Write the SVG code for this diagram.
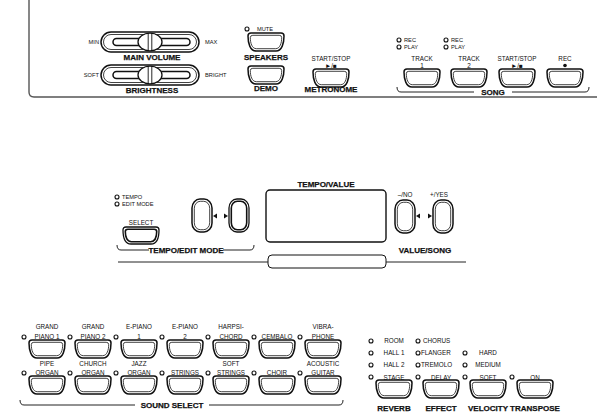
<svg xmlns="http://www.w3.org/2000/svg" width="605" height="417" viewBox="0 0 605 417">
<style>
.o{fill:#fff;stroke:#111;stroke-width:1.5}
.i{fill:none;stroke:#111;stroke-width:0.8}
.ob{fill:#fff;stroke:#111;stroke-width:1.3}
.ib{fill:none;stroke:#111;stroke-width:1.6}
.led{fill:#fff;stroke:#111;stroke-width:1.1}
.ln{fill:none;stroke:#222;stroke-width:1}
.pl{fill:none;stroke:#555;stroke-width:1.4}
text{font-family:"Liberation Sans",Arial,sans-serif;fill:#111}
.t{font-size:6.3px}
.ts{font-size:5.7px}
.b{font-size:8px;font-weight:bold;stroke:#111;stroke-width:0.25}
.m{text-anchor:middle}
</style>
<defs>
<g id="btn">
<path class="o" d="M3,0 H33 Q36,0 36,3 C36,10 34,18 28,18 H8 C2,18 0,10 0,3 Q0,0 3,0 Z"/>
<path class="i" d="M4.8,2.3 H31.2 Q33.7,2.3 33.7,4.6 C33.7,10 32,15.7 27.6,15.7 H8.4 C4,15.7 2.3,10 2.3,4.6 Q2.3,2.3 4.8,2.3 Z"/>
</g>
<g id="btnb">
<path class="ob" d="M3,0 H33 Q36,0 36,3 C36,10 34,17 28,17 H8 C2,17 0,10 0,3 Q0,0 3,0 Z"/>
<path class="ib" d="M4.8,2.3 H31.2 Q33.7,2.3 33.7,4.6 C33.7,10 32,14.7 27.6,14.7 H8.4 C4,14.7 2.3,10 2.3,4.6 Q2.3,2.3 4.8,2.3 Z"/>
</g>
<g id="tall">
<rect class="o" x="0" y="0" width="20" height="33" rx="8" ry="9"/>
<rect class="i" x="2.3" y="2.3" width="15.4" height="28.4" rx="6" ry="7"/>
</g>
<g id="tallb">
<rect class="ob" x="0" y="0" width="20" height="33" rx="8" ry="9"/>
<rect class="ib" x="2.3" y="2.3" width="15.4" height="28.4" rx="6" ry="7"/>
</g>
<g id="slider">
<rect class="o" x="-49" y="-10" width="98" height="20" rx="10"/>
<rect class="i" x="-46.5" y="-7.5" width="93" height="15" rx="7.5"/>
<rect class="o" x="-37" y="-3.5" width="77" height="7" rx="3.5"/>
<ellipse cx="0" cy="0" rx="12" ry="8.8" fill="#fff" stroke="#111" stroke-width="1.3"/>
<line x1="-1.8" y1="-8.8" x2="-1.8" y2="8.8" stroke="#111" stroke-width="0.9"/>
<line x1="1.8" y1="-8.8" x2="1.8" y2="8.8" stroke="#111" stroke-width="0.9"/>
</g>
</defs>

<!-- top panel -->
<path class="pl" d="M29,0 V92 Q29,97 34,97 H597"/>

<g id="main-volume">
<use href="#slider" x="150" y="42"/>
<text class="ts" x="99" y="44" text-anchor="end">MIN</text>
<text class="ts" x="205" y="44">MAX</text>
<text class="b m" x="152" y="60">MAIN VOLUME</text>
</g>
<g id="brightness">
<use href="#slider" x="150" y="75"/>
<text class="ts" x="99" y="77" text-anchor="end">SOFT</text>
<text class="ts" x="205" y="77">BRIGHT</text>
<text class="b m" x="152" y="93">BRIGHTNESS</text>
</g>
<g id="speakers">
<circle class="led" cx="247" cy="29" r="2"/>
<text class="ts" x="257" y="31">MUTE</text>
<use href="#btn" x="248" y="33"/>
<text class="b m" x="266" y="60">SPEAKERS</text>
</g>
<g id="demo">
<use href="#btn" x="248" y="66"/>
<text class="b m" x="266" y="91">DEMO</text>
</g>
<g id="metronome">
<text class="t m" x="331" y="61">START/STOP</text>
<text class="t m" x="331" y="67.5">►/■</text>
<use href="#btn" x="313" y="69"/>
<text class="b m" x="331" y="92">METRONOME</text>
</g>
<g id="track1">
<circle class="led" cx="399" cy="40" r="2"/>
<text class="ts" x="404" y="42">REC</text>
<circle class="led" cx="399" cy="47" r="2"/>
<text class="ts" x="404" y="49">PLAY</text>
<text class="t m" x="422" y="61">TRACK</text>
<text class="t m" x="422" y="67.5">1</text>
<use href="#btn" x="404" y="69"/>
</g>
<g id="track2">
<circle class="led" cx="446" cy="40" r="2"/>
<text class="ts" x="451" y="42">REC</text>
<circle class="led" cx="446" cy="47" r="2"/>
<text class="ts" x="451" y="49">PLAY</text>
<text class="t m" x="469" y="61">TRACK</text>
<text class="t m" x="469" y="67.5">2</text>
<use href="#btn" x="451" y="69"/>
</g>
<g id="song-startstop">
<text class="t m" x="517" y="61">START/STOP</text>
<text class="t m" x="517" y="67.5">►/■</text>
<use href="#btn" x="499" y="69"/>
</g>
<g id="song-rec">
<text class="t m" x="565" y="61">REC</text>
<circle cx="565" cy="65.5" r="1.8" fill="#111"/>
<use href="#btn" x="547" y="69"/>
</g>
<g id="song-label">
<path class="ln" d="M397,87 Q397,92 401,92 H474 M512,92 H585 Q589,92 589,87"/>
<text class="b m" x="493" y="95">SONG</text>
</g>

<!-- middle -->
<g id="tempo-edit">
<circle class="led" cx="117" cy="197" r="2"/>
<text class="ts" x="122" y="199">TEMPO</text>
<circle class="led" cx="117" cy="204" r="2"/>
<text class="ts" x="122" y="206">EDIT MODE</text>
<text class="t m" x="141" y="225">SELECT</text>
<use href="#btnb" x="123" y="227"/>
<use href="#tall" x="192" y="199"/>
<polygon points="213,216 217,213.5 217,218.5" fill="#111"/>
<polygon points="228,216 224,213.5 224,218.5" fill="#111"/>
<use href="#tallb" x="229" y="199"/>
<path class="ln" d="M117,245 Q117,250 121,250 H149 M223,250 H250 Q254,250 254,245"/>
<text class="b m" x="186" y="253">TEMPO/EDIT MODE</text>
</g>
<g id="display">
<text class="b m" x="326" y="187">TEMPO/VALUE</text>
<rect x="266" y="190" width="120" height="52" rx="4" fill="#fff" stroke="#111" stroke-width="1.4"/>
<rect x="268" y="255" width="118" height="13" rx="4" fill="#fff" stroke="#111" stroke-width="1"/>
<path class="ln" d="M118,262 H268 M386,262 H466"/>
</g>
<g id="value-song">
<text class="t m" x="405" y="197">–/NO</text>
<use href="#tall" x="395" y="200"/>
<polygon points="416,216 420,213.5 420,218.5" fill="#111"/>
<polygon points="432,216 428,213.5 428,218.5" fill="#111"/>
<text class="t m" x="439" y="197">+/YES</text>
<use href="#tall" x="433" y="200"/>
<text class="b m" x="425" y="253">VALUE/SONG</text>
</g>

<!-- bottom: sound select -->
<g id="grand-piano-1">
<text class="t m" x="47" y="329">GRAND</text><text class="t m" x="47" y="338.5">PIANO 1</text>
<circle class="led" cx="24" cy="337" r="2"/><use href="#btn" x="29" y="340"/>
</g>
<g id="grand-piano-2">
<text class="t m" x="93" y="329">GRAND</text><text class="t m" x="93" y="338.5">PIANO 2</text>
<circle class="led" cx="70" cy="337" r="2"/><use href="#btn" x="75" y="340"/>
</g>
<g id="e-piano-1">
<text class="t m" x="139" y="329">E-PIANO</text><text class="t m" x="139" y="338.5">1</text>
<circle class="led" cx="116" cy="337" r="2"/><use href="#btn" x="121" y="340"/>
</g>
<g id="e-piano-2">
<text class="t m" x="185" y="329">E-PIANO</text><text class="t m" x="185" y="338.5">2</text>
<circle class="led" cx="162" cy="337" r="2"/><use href="#btn" x="167" y="340"/>
</g>
<g id="harpsichord">
<text class="t m" x="231" y="329">HARPSI-</text><text class="t m" x="231" y="338.5">CHORD</text>
<circle class="led" cx="208" cy="337" r="2"/><use href="#btn" x="213" y="340"/>
</g>
<g id="cembalo">
<text class="t m" x="277" y="338.5">CEMBALO</text>
<circle class="led" cx="254" cy="337" r="2"/><use href="#btn" x="259" y="340"/>
</g>
<g id="vibraphone">
<text class="t m" x="323" y="329">VIBRA-</text><text class="t m" x="323" y="338.5">PHONE</text>
<circle class="led" cx="300" cy="337" r="2"/><use href="#btn" x="305" y="340"/>
</g>
<g id="pipe-organ">
<text class="t m" x="47" y="366">PIPE</text><text class="t m" x="47" y="375">ORGAN</text>
<circle class="led" cx="24" cy="373" r="2"/><use href="#btn" x="29" y="376"/>
</g>
<g id="church-organ">
<text class="t m" x="93" y="366">CHURCH</text><text class="t m" x="93" y="375">ORGAN</text>
<circle class="led" cx="70" cy="373" r="2"/><use href="#btn" x="75" y="376"/>
</g>
<g id="jazz-organ">
<text class="t m" x="139" y="366">JAZZ</text><text class="t m" x="139" y="375">ORGAN</text>
<circle class="led" cx="116" cy="373" r="2"/><use href="#btn" x="121" y="376"/>
</g>
<g id="strings">
<text class="t m" x="185" y="375">STRINGS</text>
<circle class="led" cx="162" cy="373" r="2"/><use href="#btn" x="167" y="376"/>
</g>
<g id="soft-strings">
<text class="t m" x="231" y="366">SOFT</text><text class="t m" x="231" y="375">STRINGS</text>
<circle class="led" cx="208" cy="373" r="2"/><use href="#btn" x="213" y="376"/>
</g>
<g id="choir">
<text class="t m" x="277" y="375">CHOIR</text>
<circle class="led" cx="254" cy="373" r="2"/><use href="#btn" x="259" y="376"/>
</g>
<g id="acoustic-guitar">
<text class="t m" x="323" y="366">ACOUSTIC</text><text class="t m" x="323" y="375">GUITAR</text>
<circle class="led" cx="300" cy="373" r="2"/><use href="#btn" x="305" y="376"/>
</g>
<g id="sound-select-label">
<path class="ln" d="M20,400 Q20,405 24,405 H135 M209,405 H339 Q343,405 343,400"/>
<text class="b m" x="172" y="408">SOUND SELECT</text>
</g>

<!-- bottom right -->
<g id="reverb">
<circle class="led" cx="371" cy="341" r="2"/><text class="t m" x="394" y="343">ROOM</text>
<circle class="led" cx="371" cy="353" r="2"/><text class="t m" x="394" y="355">HALL 1</text>
<circle class="led" cx="371" cy="365" r="2"/><text class="t m" x="394" y="367">HALL 2</text>
<circle class="led" cx="371" cy="377" r="2"/><text class="t m" x="394" y="379.5">STAGE</text>
<use href="#btn" x="376" y="380"/>
<text class="b m" x="394" y="411">REVERB</text>
</g>
<g id="effect">
<circle class="led" cx="418" cy="341" r="2"/><text class="t" x="423" y="343">CHORUS</text>
<circle class="led" cx="418" cy="353" r="2"/><text class="t" x="421" y="355">FLANGER</text>
<circle class="led" cx="418" cy="365" r="2"/><text class="t" x="421" y="367">TREMOLO</text>
<circle class="led" cx="418" cy="377" r="2"/><text class="t m" x="441" y="379.5">DELAY</text>
<use href="#btn" x="423" y="380"/>
<text class="b m" x="441" y="411">EFFECT</text>
</g>
<g id="velocity">
<circle class="led" cx="465" cy="353" r="2"/><text class="t m" x="488" y="355">HARD</text>
<circle class="led" cx="465" cy="365" r="2"/><text class="t m" x="488" y="367">MEDIUM</text>
<circle class="led" cx="465" cy="377" r="2"/><text class="t m" x="488" y="379.5">SOFT</text>
<use href="#btn" x="470" y="380"/>
<text class="b m" x="488" y="411">VELOCITY</text>
</g>
<g id="transpose">
<circle class="led" cx="512" cy="377" r="2"/><text class="t m" x="535" y="379.5">ON</text>
<use href="#btn" x="517" y="380"/>
<text class="b m" x="535" y="411">TRANSPOSE</text>
</g>
</svg>
